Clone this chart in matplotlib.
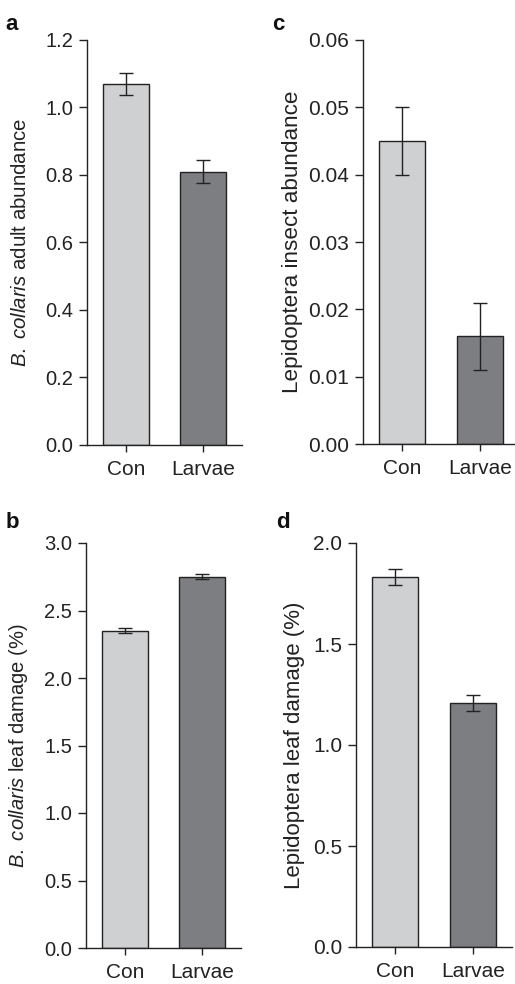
import matplotlib
matplotlib.use("Agg")
import matplotlib.pyplot as plt

plt.rcParams['font.family'] = ['Liberation Sans', 'DejaVu Sans']
plt.rcParams['mathtext.fontset'] = 'custom'
plt.rcParams['mathtext.rm'] = 'Liberation Sans'
plt.rcParams['mathtext.it'] = 'Liberation Sans:italic'

# data
groups = ["Con", "Larvae"]
colors = ["#cfd0d2", "#7d7e82"]

adult_abund = [1.07, 0.81]
adult_err = [0.033, 0.033]

lep_abund = [0.045, 0.016]
lep_err = [0.005, 0.005]

bc_damage = [2.35, 2.75]
bc_err = [0.02, 0.02]

lep_damage = [1.83, 1.21]
lep_damage_err = [0.04, 0.04]

fig = plt.figure(figsize=(5.15, 9.84), dpi=100)
W, H = 515.0, 984.0


def make_axes(left, right, top, bottom):
    return fig.add_axes([left / W, 1 - bottom / H, (right - left) / W, (bottom - top) / H])


def draw(ax, vals, errs, ymax, step, fmt, ylabel, label_x, label_size, tick_size=14.5, xmax=1.5):
    x = range(len(groups))
    ax.bar(x, vals, width=0.59, color=colors, edgecolor="#222222", linewidth=1.0, zorder=2)
    ax.errorbar(x, vals, yerr=errs, fmt="none", ecolor="#222222", elinewidth=1.0,
                capsize=5, capthick=1.0, zorder=3)
    ax.set_xlim(-0.5, xmax)
    ax.set_ylim(0, ymax)
    n = int(round(ymax / step))
    ticks = [i * step for i in range(n + 1)]
    ax.set_yticks(ticks)
    ax.set_yticklabels([fmt.format(t) for t in ticks])
    ax.set_xticks(list(x))
    ax.set_xticklabels(groups)
    for s in ["top", "right"]:
        ax.spines[s].set_visible(False)
    for s in ["left", "bottom"]:
        ax.spines[s].set_linewidth(1.0)
        ax.spines[s].set_color("#222222")
    ax.tick_params(axis="y", direction="out", length=6, width=1.0, labelsize=tick_size,
                   colors="#222222", pad=4)
    ax.tick_params(axis="x", direction="out", length=5, width=1.0, labelsize=15,
                   colors="#222222", pad=6)
    ax.set_ylabel(ylabel, fontsize=label_size, color="#222222")
    ax.yaxis.set_label_coords(label_x, 0.5)


ax_a = make_axes(87, 242, 40, 445)
draw(ax_a, adult_abund, adult_err, 1.2, 0.2, "{:.1f}",
     r"$\it{B.\ collaris}$ adult abundance", -0.37, 14.7)

ax_c = make_axes(363, 515, 40, 444)
draw(ax_c, lep_abund, lep_err, 0.06, 0.01, "{:.2f}",
     "Lepidoptera insect abundance", -0.395, 16.2, tick_size=15, xmax=1.45)

ax_b = make_axes(86, 241, 543, 948)
draw(ax_b, bc_damage, bc_err, 3.0, 0.5, "{:.1f}",
     r"$\it{B.\ collaris}$ leaf damage (%)", -0.36, 14.5)

ax_d = make_axes(356, 512, 543, 947)
draw(ax_d, lep_damage, lep_damage_err, 2.0, 0.5, "{:.1f}",
     "Lepidoptera leaf damage (%)", -0.33, 16.0, tick_size=15)

for letter, px, py in [("a", 12, 25), ("c", 278, 25), ("b", 12, 523), ("d", 283, 523)]:
    fig.text(px / W, 1 - py / H, letter, fontsize=16, fontweight="bold",
             ha="center", va="center", color="#111111")

fig.savefig("out.png", dpi=100)
